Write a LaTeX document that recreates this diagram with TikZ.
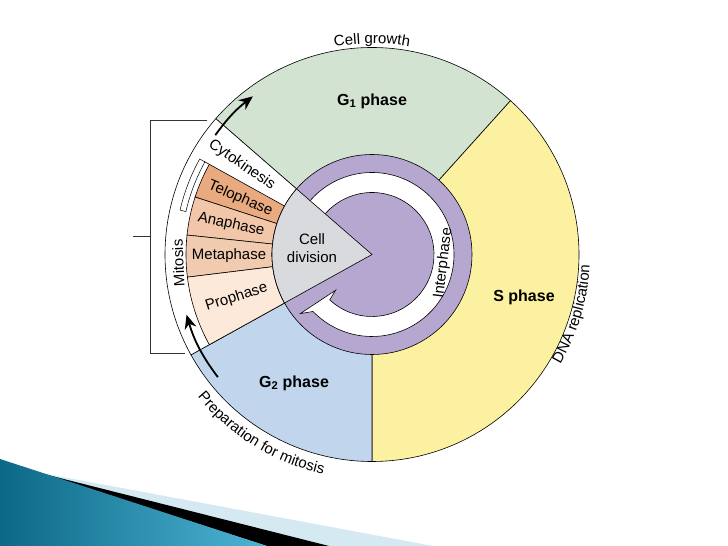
\documentclass[tikz,border=0pt]{standalone}
\usepackage{fontspec}
\setmainfont{Liberation Sans}
\usetikzlibrary{arrows.meta, decorations.text}

\definecolor{gonegreen}{RGB}{211,227,210}
\definecolor{sphyellow}{RGB}{252,241,160}
\definecolor{gtwoblue}{RGB}{193,213,236}
\definecolor{interpurple}{RGB}{181,167,208}
\definecolor{divgray}{RGB}{217,218,221}
\definecolor{telocol}{RGB}{234,170,128}
\definecolor{anacol}{RGB}{242,198,168}
\definecolor{metacol}{RGB}{241,203,175}
\definecolor{procol}{RGB}{252,233,218}
\definecolor{tealdark}{RGB}{12,104,134}
\definecolor{teallight}{RGB}{78,180,212}
\definecolor{paleblue}{RGB}{212,233,242}

\newcommand{\lblfont}{\fontsize{15}{18}\selectfont}

\tikzstyle{sector} = [draw=black, line width=0.6pt]
\tikzstyle{phasename} = [font=\lblfont, inner sep=0pt]
\tikzstyle{bigphase} = [font=\fontsize{16}{18}\selectfont\bfseries, inner sep=0pt]
\tikzstyle{cyclearrow} = [line width=1.8pt, -{Stealth[length=14pt,width=12pt]}]
\tikzstyle{bracketline} = [line width=0.8pt, draw=black!80]

\begin{document}
\begin{tikzpicture}[x=1pt, y=1pt]
	\useasboundingbox (0,0) rectangle (728,546);
	\fill[white] (0,0) rectangle (728,546);
	% slide corner
	\fill[paleblue] (36,74) -- (433,0) -- (267,0) -- cycle;
	\fill[black] (38,73.5) -- (329,0) -- (267,0) -- cycle;
	\shade[left color=tealdark, right color=teallight] (0,87) -- (267,0) -- (0,0) -- cycle;
	% mitosis bracket
	\coordinate (brtop) at (207,425.3);
	\coordinate (brbot) at (185,192.7);
	\coordinate (brmid) at (133,310);
	\draw[bracketline] (brtop) -- (150,425.3) -- (150,192.7) -- (brbot);
	\draw[bracketline] (brmid) -- (150,310);
	\begin{scope}[shift={(372,291.5)}]
		\coordinate (c) at (0,0);
		% phases
		\filldraw[sector, fill=gonegreen] (c) -- (48:207) arc[start angle=48, end angle=139, radius=207] -- cycle;
		\filldraw[sector, fill=sphyellow] (c) -- (-90:207) arc[start angle=-90, end angle=48, radius=207] -- cycle;
		\filldraw[sector, fill=gtwoblue] (c) -- (209:207) arc[start angle=209, end angle=270, radius=207] -- cycle;
		\filldraw[sector, fill=white] (c) -- (139:207) arc[start angle=139, end angle=209, radius=207] -- cycle;
		\foreach \a/\b/\col in {151/162/telocol, 162/174/anacol, 174/187/metacol, 187/209/procol}
			\filldraw[sector, fill=\col] (\a:100) arc[start angle=\a, end angle=\b, radius=100] -- (\b:186) arc[start angle=\b, end angle=\a, radius=186] -- cycle;
		\draw[sector] (151:186) -- (151:192);
		\filldraw[sector, fill=white, line width=0.5pt] (151:197) arc[start angle=151, end angle=167, radius=197] -- (167:191) arc[start angle=167, end angle=151, radius=191] -- cycle;
		% interphase ring
		\filldraw[sector, fill=interpurple] (c) circle (100);
		\filldraw[sector, fill=white] (141:82) arc[start angle=141, end angle=-136, radius=82] -- (-140.5:93) -- (-135.5:51) -- (-133:62) arc[start angle=-133, end angle=141, radius=62] -- cycle;
		\filldraw[sector, fill=divgray] (c) -- (139:100) arc[start angle=139, end angle=209, radius=100] -- cycle;
		% labels
		\node[bigphase] (gone) at (0,153.5) {G\textsubscript{1} phase};
		\node[bigphase] (sph) at (152,-42.5) {S phase};
		\node[bigphase] (gtwo) at (-78,-128.5) {G\textsubscript{2} phase};
		\node[phasename, align=center] (div) at (-60,6) {Cell\\division};
		\node[phasename, rotate=83] (inter) at (-7:72) {Interphase};
		\node[phasename, rotate=92.5] (mit) at (182.5:194) {Mitosis};
		\foreach \ang/\rad/\txt in {145.5/158/Cytokinesis, 157/143/Telophase, 168/144/Anaphase, 180.5/143/Metaphase, 197.5/142/Prophase}
			\node[phasename, rotate=\ang-180] (lbl-\txt) at (\ang:\rad) {\txt};
		\path[decorate, decoration={text along path, text={|\lblfont|Cell growth}, text align=center}]
			(112:211) arc[start angle=112, end angle=68, radius=211];
		\path[decorate, decoration={text along path, text={|\lblfont|DNA replication}, text align=center}]
			(-48:218) arc[start angle=-48, end angle=15, radius=218];
		\path[decorate, decoration={text along path, text={|\lblfont|Preparation for mitosis}, text align=center}]
			(199:225) arc[start angle=199, end angle=277.6, radius=225];
		% cycle arrows
		\coordinate (gonetail) at (142.7:197);
		\coordinate (gonetip) at (127:198);
		\coordinate (gtwotail) at (218.5:197);
		\coordinate (gtwotip) at (198:195);
		\draw[cyclearrow] (gonetail) to[bend left=8] (gonetip);
		\draw[cyclearrow] (gtwotail) to[bend left=10] (gtwotip);
	\end{scope}
\end{tikzpicture}
\end{document}
